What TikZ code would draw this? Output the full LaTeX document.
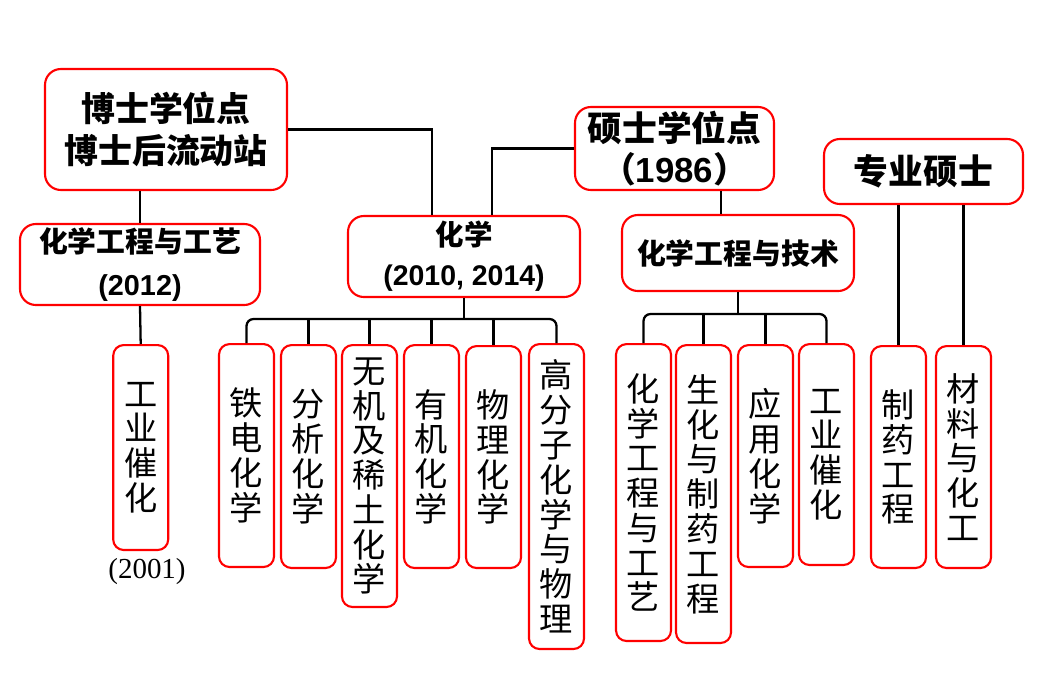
\documentclass[tikz,border=0pt]{standalone}
\usepackage{fontspec}
\setmainfont{Liberation Serif}
\newfontfamily\cjk{Noto Sans CJK SC}
\newfontfamily\arialfont{Liberation Sans}

\tikzset{
  head/.style={draw=red,line width=1.2pt,rounded corners=9pt,inner sep=0pt,align=center},
  vbox/.style={draw=red,line width=1.2pt,rounded corners=6pt,anchor=north,inner sep=0pt,
    minimum width=1.1cm,align=center,font=\cjk\fontsize{18.9}{19.8}\selectfont},
  link/.style={line width=1.3pt}
}

\begin{document}
\begin{tikzpicture}[x=0.02cm,y=-0.02cm]
  \useasboundingbox (0,0) rectangle (1050,697);
  % upper level
  \node[head,minimum width=4.84cm,minimum height=2.42cm,font=\cjk\bfseries\fontsize{19.3}{23.8}\selectfont]
    (bsd) at (166,129.5) {博士学位点\\博士后流动站};
  \node[head,minimum width=3.98cm,minimum height=1.66cm,font=\cjk\bfseries\fontsize{19.8}{23.8}\selectfont]
    (ssd) at (674.5,148.5) {硕士学位点\\（{\arialfont 1986}）};
  \node[head,minimum width=3.98cm,minimum height=1.30cm,font=\cjk\bfseries\fontsize{19.8}{23.8}\selectfont]
    (zy) at (923.5,171.5) {专业硕士};
  % second level
  \node[head,minimum width=4.80cm,minimum height=1.62cm,font=\cjk\bfseries\fontsize{16.4}{24.4}\selectfont]
    (hgy) at (140,264.5) {化学工程与工艺\\{\arialfont (2012)}};
  \node[head,minimum width=4.64cm,minimum height=1.62cm,font=\cjk\bfseries\fontsize{16.2}{22.7}\selectfont]
    (hx) at (464,256.5) {化学\\{\arialfont (2010, 2014)}};
  \node[head,minimum width=4.64cm,minimum height=1.52cm,font=\cjk\bfseries\fontsize{16.4}{22}\selectfont]
    (hjs) at (738,253) {化学工程与技术};
  % vertical boxes
  \foreach \name/\x/\top/\h/\txt in {
      gc/140.7/344/4.10/{工\\业\\催\\化},
      tdh/246.5/343/4.46/{铁\\电\\化\\学},
      fx/308.5/344/4.46/{分\\析\\化\\学},
      wj/369.5/344/5.24/{无\\机\\及\\稀\\土\\化\\学},
      yj/431.5/344/4.46/{有\\机\\化\\学},
      wl/493.5/345/4.44/{物\\理\\化\\学},
      gfz/556.5/343/6.10/{高\\分\\子\\化\\学\\与\\物\\理},
      hgy2/643.5/343/5.94/{化\\学\\工\\程\\与\\工\\艺},
      shz/703.5/344/5.96/{生\\化\\与\\制\\药\\工\\程},
      yy/765.5/344/4.44/{应\\用\\化\\学},
      gc2/826.5/343/4.42/{工\\业\\催\\化},
      zyg/898.5/345/4.44/{制\\药\\工\\程},
      cl/963.5/345/4.44/{材\\料\\与\\化\\工}}
    \node[vbox,minimum height=\h cm] (\name) at (\x,\top) {\txt};
  \node[font=\fontsize{16.5}{19}\selectfont] (y2001) at (147,572) {(2001)};
  % connectors
  \coordinate (busL) at (0,319);
  \coordinate (busR) at (0,314);
  \draw[link] (bsd.east) -| ([xshift=-0.64cm]hx.north);
  \draw[link] (ssd.west) -| ([xshift=0.56cm]hx.north);
  \draw[link] (hgy.north) -- (hgy.north |- bsd.south);
  \draw[link] (hgy.south) -- (gc.north);
  \draw[link] ([xshift=-0.34cm]hjs.north) -- ([xshift=-0.34cm]hjs.north |- ssd.south);
  \draw[link] (hx.south) -- (hx.south |- busL);
  \draw[link,rounded corners=4pt] (tdh.north) -- (tdh.north |- busL) -- (gfz.north |- busL) -- (gfz.north);
  \foreach \n in {fx,wj,yj,wl}
    \draw[link] (\n.north) -- (\n.north |- busL);
  \draw[link] (hjs.south) -- (hjs.south |- busR);
  \draw[link,rounded corners=4pt] (hgy2.north) -- (hgy2.north |- busR) -- (gc2.north |- busR) -- (gc2.north);
  \foreach \n in {shz,yy}
    \draw[link] (\n.north) -- (\n.north |- busR);
  \foreach \n in {zyg,cl}
    \draw[link] (\n.north) -- (\n.north |- zy.south);
\end{tikzpicture}
\end{document}
